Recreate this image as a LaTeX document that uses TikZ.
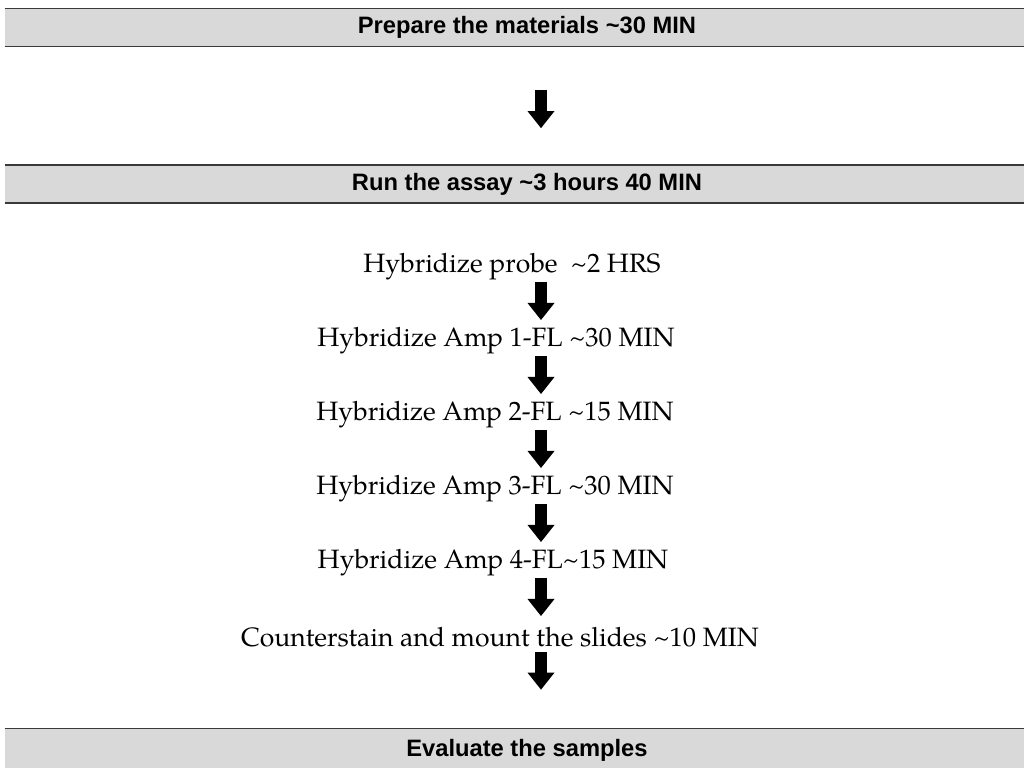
\documentclass[tikz,border=0pt]{standalone}
\usepackage{fontspec}
\usepackage{tikz}
\usetikzlibrary{arrows.meta,calc}
\newfontfamily\bandfont{Liberation Sans}
\newfontfamily\schrittfont{TeX Gyre Pagella}
\definecolor{bandgrau}{HTML}{D9D9D9}
\definecolor{randgrau}{HTML}{3A3A3A}
\tikzset{
  band/.style={fill=bandgrau,minimum width=208.8mm,minimum height=7.4mm,inner sep=0pt,font={\bandfont\bfseries\fontsize{13.5}{15}\selectfont}},
  rand/.style={randgrau,line width=0.28mm},
  schritt/.style={inner sep=0pt,font={\schrittfont\fontsize{15.1}{18}\selectfont}},
  pfeil/.style={-{Triangle[length=3.4mm,width=5.4mm,line width=0pt]},line width=2.4mm,black},
}

\begin{document}
\begin{tikzpicture}[x=0.2mm,y=-0.2mm]
  \useasboundingbox (0,0) rectangle (1024,768);
  \node[band] (prep) at (527,27.5) {Prepare the materials \textasciitilde30 MIN};
  \node[band] (lauf) at (527,184) {Run the assay \textasciitilde3 hours 40 MIN};
  \node[band,minimum height=8.4mm] (bewert) at (527,750) {Evaluate the samples};
  \foreach \b in {prep,lauf,bewert} {
    \draw[rand] (\b.north west) -- (\b.north east);
    \draw[rand] (\b.south west) -- (\b.south east);
  }
  \coordinate (achse) at (541,0);
  \node[schritt] (s1) at (512,267) {Hybridize probe~~\textasciitilde2 HRS};
  \node[schritt] (s2) at (496,341) {Hybridize Amp 1-FL \textasciitilde30 MIN};
  \node[schritt] (s3) at (495,415) {Hybridize Amp 2-FL \textasciitilde15 MIN};
  \node[schritt] (s4) at (495,489) {Hybridize Amp 3-FL \textasciitilde30 MIN};
  \node[schritt] (s5) at (493,563) {Hybridize Amp 4-FL\textasciitilde15 MIN};
  \node[schritt] (s6) at (500,637) {Counterstain and mount the slides \textasciitilde10 MIN};
  \draw[pfeil,shorten <=8.8mm,shorten >=7.4mm] (prep.south -| achse) -- (lauf.north -| achse);
  \foreach \a/\z in {s1/s2,s2/s3,s3/s4,s4/s5,s5/s6}
    \draw[pfeil,shorten <=3mm,shorten >=4.2mm] (\a -| achse) -- (\z -| achse);
  \draw[pfeil,shorten <=3mm,shorten >=7.8mm] (s6 -| achse) -- (bewert.north -| achse);
\end{tikzpicture}
\end{document}
